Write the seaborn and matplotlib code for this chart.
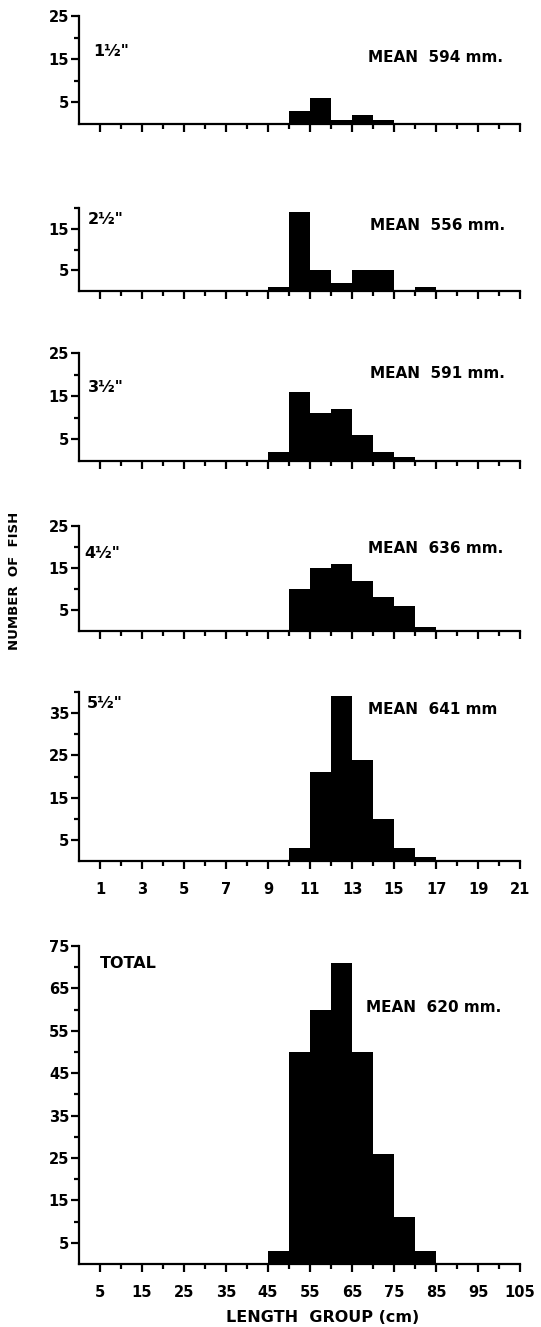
import numpy as np
import pandas as pd
import matplotlib
matplotlib.use("Agg")
import matplotlib.pyplot as plt
import seaborn as sns
from matplotlib.ticker import FixedLocator, NullFormatter

sns.set_style("ticks")
plt.rcParams["font.family"] = ["DejaVu Sans"]
plt.rcParams["font.weight"] = "bold"
plt.rcParams["text.color"] = "black"
plt.rcParams["xtick.color"] = "black"
plt.rcParams["ytick.color"] = "black"

# Length groups (left edge, in 5-cm group units) and fish counts per mesh size
group_start = [9, 10, 11, 12, 13, 14, 15, 16]
counts_1_5 = [0, 3, 6, 1, 2, 1, 0, 0]
counts_2_5 = [1, 19, 5, 2, 5, 5, 0, 1]
counts_3_5 = [2, 16, 11, 12, 6, 2, 1, 0]
counts_4_5 = [0, 10, 15, 16, 12, 8, 6, 1]
counts_5_5 = [0, 3, 21, 39, 24, 10, 3, 1]
counts_total = [3, 50, 60, 71, 50, 26, 11, 3]

mesh_labels = ['1½"', '2½"', '3½"', '4½"', '5½"', "TOTAL"]
mean_labels = ["MEAN  594 mm.", "MEAN  556 mm.", "MEAN  591 mm.",
               "MEAN  636 mm.", "MEAN  641 mm", "MEAN  620 mm."]

group_ticks = list(range(1, 22, 2))
group_tick_labels = [str(v) for v in group_ticks]
cm_tick_labels = [str(v) for v in range(5, 106, 10)]

W, H = 541, 1327
fig = plt.figure(figsize=(W / 100, H / 100), dpi=100)

# (zero line px, top px, y max, labelled y ticks, unlabelled y ticks)
panels = [
    (124, 16, 25, [5, 15, 25], [10, 20]),
    (291, 208, 20, [5, 15], [10, 20]),
    (461, 353, 25, [5, 15, 25], [10, 20]),
    (631, 526, 25, [5, 15, 25], [10, 20]),
    (861, 692, 40, [5, 15, 25, 35], [10, 20, 30, 40]),
    (1264, 946, 75, [5, 15, 25, 35, 45, 55, 65, 75], [10, 20, 30, 40, 50, 60, 70]),
]
series = [counts_1_5, counts_2_5, counts_3_5, counts_4_5, counts_5_5, counts_total]

left_px, right_px = 79, 520
axes = []
for i, ((y0, yt, ymax, ymaj, ymin), counts) in enumerate(zip(panels, series)):
    ax = fig.add_axes([left_px / W, 1 - y0 / H, (right_px - left_px) / W, (y0 - yt) / H])
    df = pd.DataFrame({"group": np.array(group_start, dtype=float) + 0.5,
                       "n": np.array(counts, dtype=float)})
    sns.histplot(data=df, x="group", weights="n", binwidth=1, binrange=(0, 21), ax=ax,
                 color="black", alpha=1, linewidth=0, edgecolor="black")
    ax.set_xlim(0, 21)
    ax.set_ylim(0, ymax)
    ax.set_xlabel("")
    ax.set_ylabel("")
    for s in ("top", "right"):
        ax.spines[s].set_visible(False)
    for s in ("left", "bottom"):
        ax.spines[s].set_linewidth(1.6)
        ax.spines[s].set_color("black")
    ax.yaxis.set_major_locator(FixedLocator(ymaj))
    ax.yaxis.set_minor_locator(FixedLocator(ymin))
    ax.xaxis.set_major_locator(FixedLocator(group_ticks))
    ax.xaxis.set_minor_locator(FixedLocator(list(range(2, 21, 2))))
    ax.tick_params(axis="both", which="major", length=6, width=1.6, color="black",
                   labelsize=10.5, labelcolor="black")
    ax.tick_params(axis="both", which="minor", length=3.5, width=1.6, color="black")
    ax.tick_params(axis="y", which="major", pad=1)
    ax.tick_params(axis="x", which="major", pad=9)
    if i == 4:
        ax.set_xticklabels(group_tick_labels)
    elif i == 5:
        ax.set_xticklabels(cm_tick_labels)
    else:
        ax.xaxis.set_major_formatter(NullFormatter())
    for lab in ax.get_xticklabels() + ax.get_yticklabels():
        lab.set_fontweight("bold")
    axes.append(ax)

# Panel annotations
label_pos = [(93, 52), (88, 220), (88, 388), (84, 553), (87, 703), (100, 963)]
mean_pos = [(368, 57), (370, 225), (370, 373), (368, 549), (368, 710), (366, 1007)]
for lab, (x, y) in zip(mesh_labels, label_pos):
    fig.text(x / W, 1 - y / H, lab, fontsize=11.5, fontweight="bold", ha="left", va="center")
for lab, (x, y) in zip(mean_labels, mean_pos):
    fig.text(x / W, 1 - y / H, lab, fontsize=11, fontweight="bold", ha="left", va="center")

fig.text(15 / W, 1 - 581 / H, "NUMBER  OF  FISH", rotation=90, fontsize=9.5,
         fontweight="bold", ha="center", va="center")
fig.text(323 / W, 1 - 1317 / H, "LENGTH  GROUP (cm)", fontsize=11.5,
         fontweight="bold", ha="center", va="center")

fig.savefig("out.png", dpi=100, facecolor="white")
